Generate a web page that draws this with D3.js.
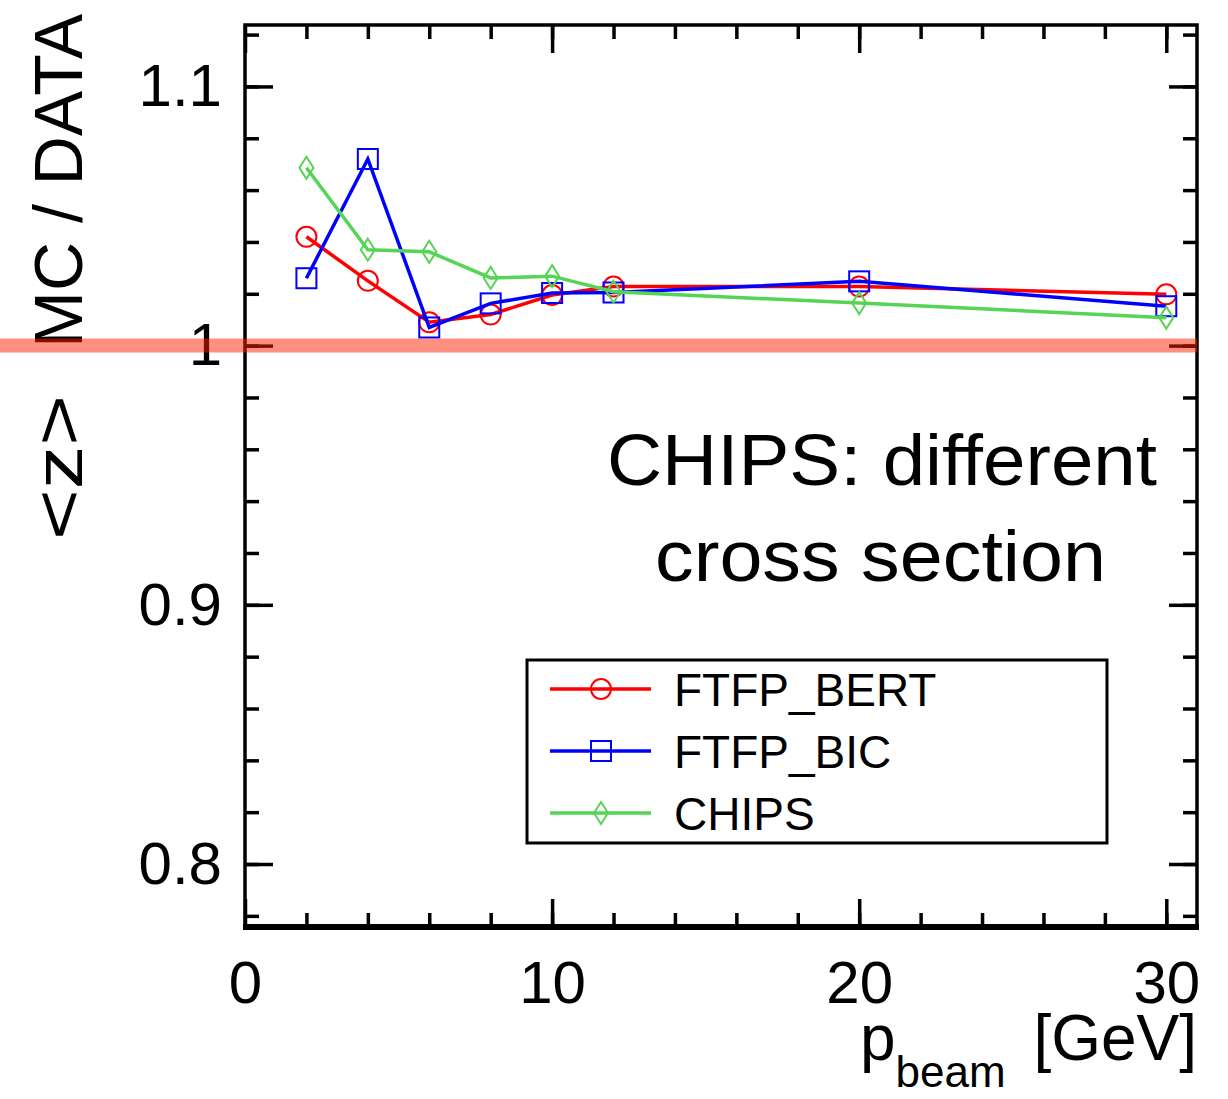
<!DOCTYPE html>
<html>
<head>
<meta charset="utf-8">
<script src="https://cdn.jsdelivr.net/npm/d3@7"></script>
<style>
  body { margin: 0; background: #fff; }
  text { font-family: "Liberation Sans", Arial, Helvetica, sans-serif; fill: #000; }
</style>
</head>
<body>
<div class="canvas"></div>
<script>
// beam momenta [GeV]
const momenta = [2, 4, 6, 8, 10, 12, 20, 30]

// <z> MC / DATA per physics list
const ftfpBert = [1.042, 1.025, 1.009, 1.012, 1.0195, 1.0228, 1.0228, 1.0198]
const ftfpBic = [1.026, 1.072, 1.007, 1.0163, 1.0203, 1.0205, 1.0248, 1.0152]
const chips = [1.0686, 1.037, 1.0362, 1.0261, 1.0268, 1.0208, 1.0164, 1.0108]

const seriesNames = ['FTFP_BERT', 'FTFP_BIC', 'CHIPS']

const xTicks = [0, 10, 20, 30]
const xTickLabels = ['0', '10', '20', '30']
const xMinorTicks = d3.range(2, 31, 2)
const yTicks = [0.8, 0.9, 1.0, 1.1]
const yTickLabels = ['0.8', '0.9', '1', '1.1']
const yMinorTicks = d3.range(39, 57).map(d => d * 0.02)

const dims = { width: 1228, height: 1099 }
const frame = { left: 245, right: 1197, top: 25, bottom: 927 }

const svg = d3.select('.canvas')
    .append('svg')
    .attr('width', dims.width)
    .attr('height', dims.height)

const x = d3.scaleLinear()
    .domain([0, 31])
    .range([frame.left, frame.right])

const y = d3.scaleLinear()
    .domain([0.7757, 1.1237])
    .range([frame.bottom, frame.top])

// ticks, all pointing inside the frame
const styleAxis = (g) => {
    g.select('.domain').remove()
    g.selectAll('.tick line').attr('stroke', '#000').attr('stroke-width', 3.5)
    g.selectAll('.tick text').attr('font-size', 60).attr('fill', '#000')
        .attr('font-family', '"Liberation Sans", Arial, sans-serif')
}

const minor = (axis, values) => axis.tickValues(values).tickSize(-14).tickFormat('')
const major = (axis, values) => axis.tickValues(values).tickSize(-28)

svg.append('g')
    .attr('transform', `translate(0, ${frame.bottom})`)
    .call(minor(d3.axisBottom(x), xMinorTicks))
    .call(styleAxis)
svg.append('g')
    .attr('transform', `translate(0, ${frame.bottom})`)
    .call(major(d3.axisBottom(x), xTicks).tickPadding(33).tickFormat((d, i) => xTickLabels[i]))
    .call(styleAxis)

svg.append('g')
    .attr('transform', `translate(0, ${frame.top})`)
    .call(minor(d3.axisTop(x), xMinorTicks))
    .call(styleAxis)
svg.append('g')
    .attr('transform', `translate(0, ${frame.top})`)
    .call(major(d3.axisTop(x), xTicks).tickFormat(''))
    .call(styleAxis)

svg.append('g')
    .attr('transform', `translate(${frame.left}, 0)`)
    .call(minor(d3.axisLeft(y), yMinorTicks))
    .call(styleAxis)
svg.append('g')
    .attr('transform', `translate(${frame.left}, 0)`)
    .call(major(d3.axisLeft(y), yTicks).tickPadding(23).tickFormat((d, i) => yTickLabels[i]))
    .call(styleAxis)

svg.append('g')
    .attr('transform', `translate(${frame.right}, 0)`)
    .call(minor(d3.axisRight(y), yMinorTicks))
    .call(styleAxis)
svg.append('g')
    .attr('transform', `translate(${frame.right}, 0)`)
    .call(major(d3.axisRight(y), yTicks).tickFormat(''))
    .call(styleAxis)

// frame
svg.append('rect')
    .attr('x', frame.left)
    .attr('y', frame.top)
    .attr('width', frame.right - frame.left)
    .attr('height', frame.bottom - frame.top)
    .attr('fill', 'none')
    .attr('stroke', '#000')
    .attr('stroke-width', 3.5)
svg.append('line')
    .attr('x1', frame.left - 2).attr('x2', frame.right + 2)
    .attr('y1', frame.bottom).attr('y2', frame.bottom)
    .attr('stroke', '#000')
    .attr('stroke-width', 6)

// marker shapes
const marker = (g, shape, cx, cy, color) => {
    if (shape === 'circle') {
        g.append('circle').attr('cx', cx).attr('cy', cy).attr('r', 10)
    } else if (shape === 'square') {
        g.append('rect').attr('x', cx - 10).attr('y', cy - 10).attr('width', 20).attr('height', 20)
    } else {
        g.append('path').attr('d', `M${cx},${cy - 11}L${cx + 7},${cy}L${cx},${cy + 11}L${cx - 7},${cy}Z`)
    }
    g.selectAll(':last-child').attr('fill', 'none').attr('stroke', color).attr('stroke-width', 2)
}

const series = [
    { name: seriesNames[0], values: ftfpBert, color: '#ff0000', shape: 'circle' },
    { name: seriesNames[1], values: ftfpBic, color: '#0000ff', shape: 'square' },
    { name: seriesNames[2], values: chips, color: '#55d455', shape: 'diamond' }
]

const line = d3.line()
    .x(d => x(d[0]))
    .y(d => y(d[1]))

series.forEach(s => {
    const pts = momenta.map((m, i) => [m, s.values[i]])
    const g = svg.append('g')
    g.append('path')
        .datum(pts)
        .attr('d', line)
        .attr('fill', 'none')
        .attr('stroke', s.color)
        .attr('stroke-width', 3.5)
    pts.forEach(p => marker(g, s.shape, x(p[0]), y(p[1]), s.color))
})

// legend
const legend = svg.append('g')
legend.append('rect')
    .attr('x', 527).attr('y', 660)
    .attr('width', 580).attr('height', 183)
    .attr('fill', '#fff')
    .attr('stroke', '#000')
    .attr('stroke-width', 3)

series.forEach((s, i) => {
    const ly = 689 + i * 62
    const g = legend.append('g')
    g.append('line')
        .attr('x1', 550).attr('x2', 651)
        .attr('y1', ly).attr('y2', ly)
        .attr('stroke', s.color)
        .attr('stroke-width', 3.5)
    marker(g, s.shape, 601, ly, s.color)
    g.append('text')
        .attr('x', 674)
        .attr('y', ly + 17)
        .attr('font-size', 46)
        .text(s.name)
})

// annotation
const note = svg.append('g')
    .attr('font-family', 'Lato, "Open Sans", sans-serif')
note.append('text')
    .attr('x', 607).attr('y', 485)
    .attr('font-size', 72)
    .attr('font-family', 'Lato, sans-serif')
    .attr('textLength', 550)
    .attr('lengthAdjust', 'spacingAndGlyphs')
    .text('CHIPS: different')
note.append('text')
    .attr('x', 655).attr('y', 581)
    .attr('font-size', 72)
    .attr('font-family', 'Lato, sans-serif')
    .attr('textLength', 451)
    .attr('lengthAdjust', 'spacingAndGlyphs')
    .text('cross section')

// axis titles
const xTitle = svg.append('text')
    .attr('x', 860)
    .attr('y', 1060)
    .attr('font-size', 64)
xTitle.append('tspan').text('p')
xTitle.append('tspan').attr('dy', 27).attr('font-size', 44).text('beam')

svg.append('text')
    .attr('x', frame.right)
    .attr('y', 1060)
    .attr('font-size', 64)
    .attr('text-anchor', 'end')
    .text('[GeV]')

svg.append('text')
    .attr('transform', 'translate(82, 540) rotate(-90)')
    .attr('font-size', 68)
    .attr('textLength', 145)
    .attr('lengthAdjust', 'spacingAndGlyphs')
    .text('<z>')
svg.append('text')
    .attr('transform', 'translate(82, 14) rotate(-90)')
    .attr('font-size', 68)
    .attr('text-anchor', 'end')
    .text('MC / DATA')

// reference band at unity, drawn on top
svg.append('line')
    .attr('x1', 0).attr('x2', frame.right)
    .attr('y1', y(1)).attr('y2', y(1))
    .attr('stroke', '#ff2000')
    .attr('stroke-opacity', 0.5)
    .attr('stroke-width', 14)
</script>
</body>
</html>
